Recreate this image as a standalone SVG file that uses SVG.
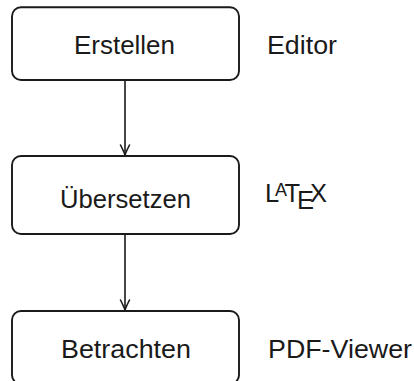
<svg xmlns="http://www.w3.org/2000/svg" width="414" height="381" viewBox="0 0 414 381">
  <style>
    .box { fill: #ffffff; stroke: #1a1a1a; stroke-width: 1.9; }
    .lbl { font-family: "Liberation Sans", "DejaVu Sans", sans-serif; font-size: 25.5px; fill: #1a1a1a; }
    .edge { fill: none; stroke: #1a1a1a; stroke-width: 1.6; }
  </style>
  <defs>
    <!-- curved-barb arrow tip, pointing along +x -->
    <marker id="tip" markerUnits="userSpaceOnUse" markerWidth="16" markerHeight="16" viewBox="-12 -8 16 16" refX="0" refY="0" orient="auto">
      <path d="M -10,-4.5 Q -3.5,-1.2 0,0 Q -3.5,1.2 -10,4.5" fill="none" stroke="#1a1a1a" stroke-width="1.6" stroke-linecap="round" stroke-linejoin="round"/>
    </marker>
  </defs>

  <g id="connectors">
    <line class="edge" x1="125" y1="80" x2="125" y2="155" marker-end="url(#tip)"/>
    <line class="edge" x1="125" y1="234" x2="125" y2="310" marker-end="url(#tip)"/>
  </g>

  <g id="node-erstellen">
    <rect class="box" x="12" y="7.3" width="227" height="72.7" rx="9"/>
    <text class="lbl" x="74" y="54" textLength="101" lengthAdjust="spacingAndGlyphs">Erstellen</text>
  </g>
  <g id="node-uebersetzen">
    <rect class="box" x="12" y="156" width="227" height="78" rx="9"/>
    <text class="lbl" x="60" y="208.3" textLength="131" lengthAdjust="spacingAndGlyphs">Übersetzen</text>
  </g>
  <g id="node-betrachten">
    <rect class="box" x="12" y="311" width="227" height="73" rx="9"/>
    <text class="lbl" x="61" y="357.7" textLength="130" lengthAdjust="spacingAndGlyphs">Betrachten</text>
  </g>

  <g id="tool-editor">
    <text class="lbl" x="267" y="54" textLength="70" lengthAdjust="spacingAndGlyphs">Editor</text>
  </g>
  <g id="tool-latex">
    <text class="lbl"><tspan x="265" y="202">L</tspan><tspan x="275" y="196" font-size="18">A</tspan><tspan x="284.5" y="202">T</tspan><tspan x="297" y="208.5">E</tspan><tspan x="310" y="202">X</tspan></text>
  </g>
  <g id="tool-viewer">
    <text class="lbl" x="268" y="357.7" textLength="144" lengthAdjust="spacingAndGlyphs">PDF-Viewer</text>
  </g>
</svg>
